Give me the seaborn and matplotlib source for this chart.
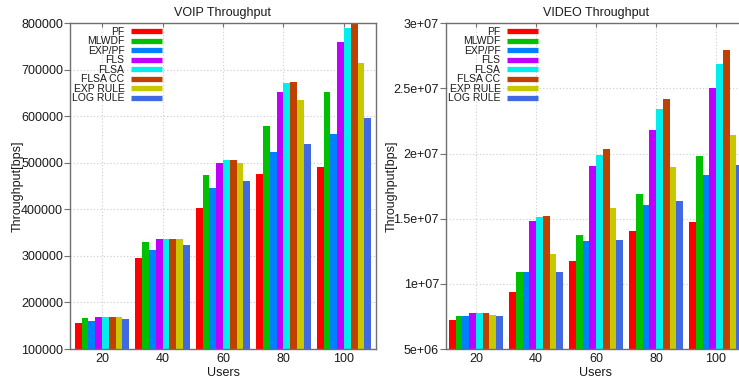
import matplotlib
matplotlib.use("Agg")
import matplotlib.pyplot as plt
from matplotlib.lines import Line2D
import seaborn as sns
import pandas as pd

users = ["20", "40", "60", "80", "100"]
schedulers = ["PF", "MLWDF", "EXP/PF", "FLS", "FLSA", "FLSA CC", "EXP RULE", "LOG RULE"]
colors = ["#ff0000", "#00c000", "#0080ff", "#c000ff", "#00eeee", "#c04000", "#c8c800", "#4169e1"]

voip_pf = [156600, 295600, 404000, 476400, 491400]
voip_mlwdf = [167400, 329900, 474900, 578400, 652100]
voip_exppf = [160300, 312800, 446400, 524200, 562100]
voip_fls = [168900, 336300, 500000, 652100, 760000]
voip_flsa = [168900, 336300, 507100, 672100, 789300]
voip_flsacc = [168900, 336300, 507100, 673600, 799000]
voip_exprule = [168900, 336300, 500000, 634100, 714300]
voip_logrule = [164600, 322800, 460000, 541400, 596400]

video_pf = [7.21e6, 9.39e6, 11.77e6, 14.08e6, 14.77e6]
video_mlwdf = [7.51e6, 10.90e6, 13.77e6, 16.92e6, 19.82e6]
video_exppf = [7.51e6, 10.90e6, 13.31e6, 16.08e6, 18.33e6]
video_fls = [7.74e6, 14.85e6, 19.03e6, 21.79e6, 25.00e6]
video_flsa = [7.74e6, 15.10e6, 19.92e6, 23.43e6, 26.87e6]
video_flsacc = [7.74e6, 15.23e6, 20.38e6, 24.19e6, 27.95e6]
video_exprule = [7.59e6, 12.28e6, 15.79e6, 19.00e6, 21.44e6]
video_logrule = [7.51e6, 10.90e6, 13.33e6, 16.33e6, 19.13e6]

voip = [voip_pf, voip_mlwdf, voip_exppf, voip_fls, voip_flsa, voip_flsacc, voip_exprule, voip_logrule]
video = [video_pf, video_mlwdf, video_exppf, video_fls, video_flsa, video_flsacc, video_exprule, video_logrule]

voip_yticks = [100000, 200000, 300000, 400000, 500000, 600000, 700000, 800000]
voip_ylabels = ["100000", "200000", "300000", "400000", "500000", "600000", "700000", "800000"]
video_yticks = [5e6, 1e7, 1.5e7, 2e7, 2.5e7, 3e7]
video_ylabels = ["5e+06", "1e+07", "1.5e+07", "2e+07", "2.5e+07", "3e+07"]


def long_df(series):
    rows = []
    for s, vals in zip(schedulers, series):
        for u, v in zip(users, vals):
            rows.append({"Users": u, "Scheduler": s, "Value": v})
    return pd.DataFrame(rows)


sns.set_theme(style="white")
plt.rcParams["font.family"] = ["Liberation Sans", "DejaVu Sans"]
text_color = "#1a1a1a"
spine_color = "#707070"

fig = plt.figure(figsize=(7.39, 3.78), dpi=100)
ax1 = fig.add_axes([70 / 739, 29 / 378, 306 / 739, 325.7 / 378])
ax2 = fig.add_axes([446 / 739, 29 / 378, 300 / 739, 325.7 / 378])

configs = [
    (ax1, voip, "VOIP Throughput", (100000, 800000), voip_yticks, voip_ylabels, (-0.53, 4.53), -0.150),
    (ax2, video, "VIDEO Throughput", (5e6, 3e7), video_yticks, video_ylabels, (-0.5, 4.5), -0.162),
]

for ax, series, title, ylim, yt, yl, xlim, lblx in configs:
    df = long_df(series)
    sns.barplot(data=df, x="Users", y="Value", hue="Scheduler", order=users,
                hue_order=schedulers, palette=colors, width=0.9, saturation=1,
                linewidth=0, errorbar=None, ax=ax, legend=False, zorder=2)
    ax.set_ylim(*ylim)
    ax.set_xlim(*xlim)
    ax.set_yticks(yt)
    ax.set_yticklabels(yl)
    ax.grid(True, color="#cccccc", linestyle=(0, (1, 2)), linewidth=0.8, zorder=0)
    ax.set_axisbelow(True)
    for sp in ax.spines.values():
        sp.set_color(spine_color)
        sp.set_linewidth(1.0)
        sp.set_visible(True)
    ax.tick_params(axis="y", direction="out", length=4, width=0.8, color=spine_color,
                   labelsize=9, labelcolor=text_color, pad=1, left=True)
    ax.tick_params(axis="x", direction="in", length=3, width=0.8, color=spine_color,
                   labelsize=9, labelcolor=text_color, pad=3, bottom=False, top=True)
    ax.set_title(title, fontsize=9, color=text_color, pad=5)
    ax.set_xlabel("Users", fontsize=9, color=text_color, labelpad=1)
    ax.set_ylabel("Throughput[bps]", fontsize=9, color=text_color)
    ax.yaxis.set_label_coords(lblx, 0.5)

    handles = [Line2D([0], [0], color=c, lw=3.8, solid_capstyle="butt") for c in colors]
    leg = ax.legend(handles, schedulers, loc="upper left", bbox_to_anchor=(0.0, 0.995),
                    frameon=False, markerfirst=False, fontsize=7.5, handlelength=3.0,
                    handletextpad=0.6, labelspacing=-0.05, borderpad=0, borderaxespad=0.2)
    for t in leg.get_texts():
        t.set_color(text_color)
        t.set_ha("right")

fig.savefig("out.png", dpi=100)
